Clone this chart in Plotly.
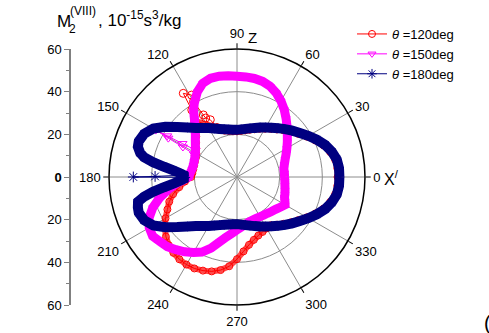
import plotly.graph_objects as go

# ---------------- data ----------------
# theta = 120 deg (red): main loop + spike of scattered points near 120 deg
red_theta = [0, 5, 10, 15, 20, 25, 30, 35, 40, 45, 50, 55, 60, 65, 70, 75, 80, 85, 90, 95,
             100, 105, 110, 112, 127, 130, 135, 140, 145, 150, 155, 160, 165, 170, 175, 180,
             185, 190, 195, 200, 205, 210, 215, 220, 225, 230, 235, 240, 245, 250, 255, 260,
             265, 270, 275, 280, 285, 290, 295, 300, 305, 310, 315, 320, 325, 330, 335, 340,
             345, 350, 355, 360]
red_r = [47.2, 47.2, 46.7, 45.2, 43.2, 40.5, 37.8, 35.2, 33.0, 30.9, 29.1, 27.5, 26.1, 24.9,
         23.8, 22.9, 22.2, 21.7, 21.4, 21.5, 21.9, 22.5, 23.4, 25.0, 33.0, 30.0, 27.0, 25.0,
         23.3, 22.0, 21.3, 21.0, 20.8, 20.8, 21.0, 21.5, 24.5, 27.5, 31.0, 33.8, 36.0, 38.7,
         41.3, 43.5, 45.2, 46.4, 47.1, 47.4, 47.3, 46.7, 45.8, 44.3, 42.0, 38.5, 35.0, 32.3,
         30.5, 29.2, 28.4, 27.8, 27.6, 29.2, 31.0, 33.0, 35.2, 37.8, 40.5, 43.2, 45.2, 46.7,
         47.2, 47.2]
red_spike_theta = [112, 115, 118, 118.5, 120, 119, 122.7, 124, 127]
red_spike_r = [25.0, 29.6, 31.3, 33.1, 40.8, 43.9, 46.6, 37.9, 33.0]

# theta = 150 deg (magenta)
mag_theta = [0, 5, 10, 15, 20, 25, 30, 35, 40, 45, 50, 55, 60, 65, 70, 75, 80, 85, 90, 95,
             100, 105, 110, 115, 120, 123, 126, 130, 135, 140, 145, 150, 155, 160, 165, 170,
             175, 180, 183, 186, 190, 195, 200, 205, 210, 215, 220, 225, 230, 235, 240, 245,
             250, 255, 260, 265, 270, 275, 280, 285, 290, 295, 300, 305, 310, 315, 320, 325,
             330, 333, 337, 340, 345, 350, 355, 360]
mag_r = [22.3, 22.3, 22.3, 23.0, 24.0, 25.4, 27.0, 28.8, 30.8, 33.2, 35.8, 38.6, 41.2, 43.5,
         45.3, 46.4, 46.9, 47.1, 47.2, 47.6, 48.0, 47.9, 46.8, 44.0, 40.0, 37.4, 34.0, 30.5,
         27.6, 25.5, 23.8, 22.5, 21.8, 21.4, 21.2, 21.4, 22.0, 22.6, 25.0, 28.4, 32.5, 37.5,
         42.0, 45.5, 47.5, 48.3, 47.1, 46.2, 44.5, 42.8, 40.8, 38.8, 35.5, 31.5, 28.5, 26.5,
         24.8, 23.5, 22.5, 21.8, 21.5, 21.4, 21.5, 21.8, 22.2, 22.9, 23.6, 24.7, 26.0, 25.2,
         24.2, 23.9, 23.3, 22.8, 22.5, 22.3]
mag_spike_theta = [147, 148.5, 149.5, 150, 150.5, 151, 152]
mag_spike_r = [23.2, 30.0, 38.0, 44.0, 37.0, 29.0, 22.8]

# theta = 180 deg (navy)
navy_theta = [0, 5, 10, 15, 20, 25, 30, 35, 40, 45, 50, 55, 60, 65, 70, 75, 80, 85, 90, 95,
              100, 105, 110, 115, 120, 125, 130, 135, 140, 145, 150, 155, 160, 163, 166, 168,
              170, 172, 174, 176, 178, 182, 184, 186, 188, 190, 192, 194, 197, 200, 205, 210,
              215, 220, 225, 230, 235, 240, 245, 250, 255, 260, 265, 270, 275, 280, 285, 290,
              295, 300, 305, 310, 315, 320, 325, 330, 335, 340, 345, 350, 355, 360]
navy_r = [48.0, 48.0, 47.5, 46.0, 44.0, 41.3, 38.6, 36.0, 33.8, 31.7, 29.9, 28.2, 26.8, 25.6,
          24.5, 23.6, 22.9, 22.4, 22.1, 22.2, 22.6, 23.2, 24.0, 25.1, 26.5, 28.0, 30.0, 32.8,
          36.5, 41.0, 45.3, 48.0, 49.0, 48.6, 46.8, 44.5, 40.0, 34.5, 30.0, 27.0, 25.0, 25.0,
          27.0, 30.0, 34.5, 40.0, 44.5, 47.8, 48.6, 49.0, 48.0, 45.3, 41.0, 36.5, 32.8, 30.0,
          28.0, 26.5, 25.1, 24.0, 23.2, 22.6, 22.2, 22.1, 22.4, 22.9, 23.6, 24.5, 25.6, 26.8,
          28.2, 29.9, 31.7, 33.8, 36.0, 38.6, 41.3, 44.0, 46.0, 47.5, 48.0, 48.0]
navy_spike_theta = [178, 179.6, 180, 180.4, 182]
navy_spike_r = [25.0, 38.4, 48.6, 24.5, 25.0]

angle_ticks = [0, 30, 60, 90, 120, 150, 180, 210, 240, 270, 300, 330]
angle_labels = ["0", "30", "60", "90", "120", "150", "180", "210", "240", "270", "300", "330"]
minor_angles = [15, 45, 75, 105, 135, 165, 195, 225, 255, 285, 315, 345]
radial_major = [20, 40]
radial_minor = [10, 30, 50]
left_ticks = [-60, -40, -20, 0, 20, 40, 60]
left_labels = ["60", "40", "20", "<b>0</b>", "20", "40", "60"]
left_minor = [-50, -30, -10, 10, 30, 50]

series = [
    ("<i>θ</i> =120deg", red_theta, red_r, red_spike_theta, red_spike_r,
     "#FF0000", "circle-open", 6, 7, 0.7),
    ("<i>θ</i> =150deg", mag_theta, mag_r, mag_spike_theta, mag_spike_r,
     "#FF00FF", "triangle-down-open", 9, 7, 1.0),
    ("<i>θ</i> =180deg", navy_theta, navy_r, navy_spike_theta, navy_spike_r,
     "#000080", "asterisk-open", 10, 8, 1.0),
]

W, H = 489, 333
FONT = "Liberation Sans, Arial, sans-serif"
cx, cy, R = 237, 177, 128

def px(x):
    return x / W

def py(y):
    return 1 - y / H

dom_x = [px(cx - R), px(cx + R)]
dom_y = [py(cy + R), py(cy - R)]

fig = go.Figure()

for name, th, rr, sth, sr, col, sym, bw, ms, op in series:
    fig.add_trace(go.Scatterpolar(
        theta=th, r=rr, mode="lines", subplot="polar2",
        line=dict(color=col, width=bw), opacity=op,
        showlegend=False, hoverinfo="skip"))
    fig.add_trace(go.Scatterpolar(
        theta=th, r=rr, mode="lines+markers", subplot="polar2", name=name,
        line=dict(color=col, width=1),
        marker=dict(symbol=sym, size=ms, color=col, line=dict(color=col, width=1))))
    fig.add_trace(go.Scatterpolar(
        theta=sth, r=sr, mode="lines+markers", subplot="polar2", showlegend=False,
        line=dict(color=col, width=1),
        marker=dict(symbol=sym, size=ms + 1, color=col, line=dict(color=col, width=1))))

# dummy trace so the left linear axis is drawn
fig.add_trace(go.Scatter(x=[0], y=[0], mode="markers", marker=dict(opacity=0),
                         showlegend=False, hoverinfo="skip", xaxis="x", yaxis="y"))

fig.update_layout(
    width=W, height=H, autosize=False,
    margin=dict(l=0, r=0, t=0, b=0, pad=0, autoexpand=False),
    paper_bgcolor="white", plot_bgcolor="rgba(0,0,0,0)",
    font=dict(family=FONT, size=13, color="black"),
    polar=dict(
        domain=dict(x=dom_x, y=dom_y), bgcolor="white",
        radialaxis=dict(range=[0, 60], tickvals=radial_minor, showticklabels=False,
                        showline=False, ticks="", gridcolor="#c4c4c4", griddash="dot"),
        angularaxis=dict(tickvals=minor_angles, showticklabels=False, showline=False,
                         ticks="", gridcolor="#c4c4c4", griddash="dot",
                         direction="counterclockwise", rotation=0),
    ),
    polar2=dict(
        domain=dict(x=dom_x, y=dom_y), bgcolor="rgba(0,0,0,0)",
        radialaxis=dict(range=[0, 60], tickvals=radial_major, showticklabels=False,
                        showline=False, ticks="", gridcolor="#8c8c8c", gridwidth=1),
        angularaxis=dict(tickvals=angle_ticks, ticktext=angle_labels,
                         direction="counterclockwise", rotation=0,
                         showline=True, linecolor="black", linewidth=1.5,
                         ticks="outside", ticklen=5, tickcolor="black",
                         gridcolor="#8c8c8c", gridwidth=1,
                         tickfont=dict(size=13, color="black", family=FONT)),
    ),
    xaxis=dict(visible=False, domain=[0.2, 0.3], range=[-1, 1]),
    yaxis=dict(range=[-60, 60], domain=dom_y, anchor="free", position=px(70),
               side="left", tickvals=left_ticks, ticktext=left_labels,
               ticks="outside", ticklen=5, tickwidth=1.2, tickcolor="#808080",
               showline=True, linecolor="#808080", linewidth=1.5,
               showgrid=False, zeroline=False, automargin=False,
               tickfont=dict(size=13, color="black", family=FONT),
               minor=dict(tickvals=left_minor, ticks="outside", ticklen=3,
                          tickcolor="#808080", showgrid=False)),
    legend=dict(x=px(352), y=py(19), xanchor="left", yanchor="top",
                bgcolor="rgba(0,0,0,0)", font=dict(size=13, family=FONT),
                itemwidth=30, tracegroupgap=0),
    showlegend=True,
)

ann = [
    dict(text="M", x=px(55), y=py(21), size=17),
    dict(text="(VIII)", x=px(68), y=py(11), size=12),
    dict(text="2", x=px(67), y=py(29), size=12),
    dict(text=", 10<sup>-15</sup>s<sup>3</sup>/kg", x=px(96), y=py(19), size=17),
    dict(text="Z", x=px(246), y=py(37), size=15),
    dict(text="X<sup>/</sup>", x=px(382), y=py(178), size=16),
    dict(text="(", x=px(482), y=py(323), size=20),
]
for a in ann:
    fig.add_annotation(xref="paper", yref="paper", xanchor="left", yanchor="middle",
                       showarrow=False, text=a["text"], x=a["x"], y=a["y"],
                       font=dict(family=FONT, color="black", size=a["size"]))

fig.write_html("out.html")
